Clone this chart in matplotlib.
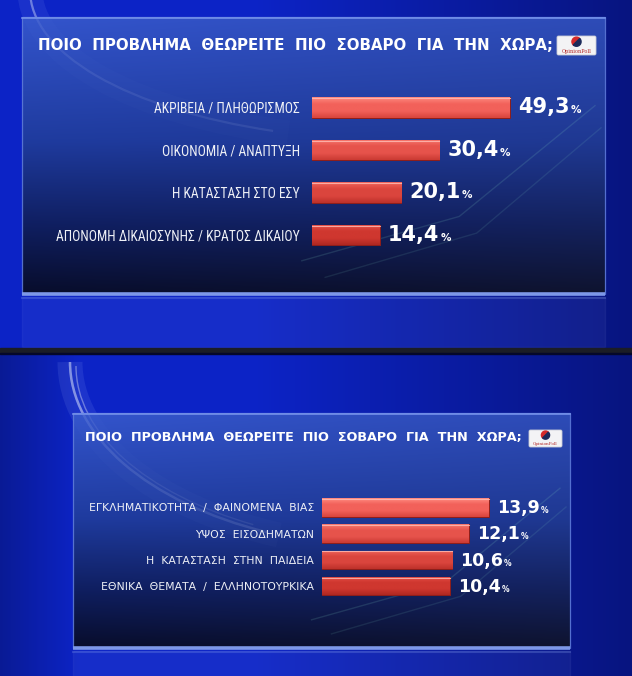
import numpy as np
import matplotlib
matplotlib.use("Agg")
import matplotlib.pyplot as plt
from matplotlib import font_manager
from matplotlib.patches import Rectangle, FancyBboxPatch, Wedge, Arc
from matplotlib.colors import LinearSegmentedColormap, to_rgb

# ---------------- data ----------------
title_text = "ΠΟΙΟ  ΠΡΟΒΛΗΜΑ  ΘΕΩΡΕΙΤΕ  ΠΙΟ  ΣΟΒΑΡΟ  ΓΙΑ  ΤΗΝ  ΧΩΡΑ;"
top_categories = ["ΑΚΡΙΒΕΙΑ / ΠΛΗΘΩΡΙΣΜΟΣ", "ΟΙΚΟΝΟΜΙΑ / ΑΝΑΠΤΥΞΗ",
                  "Η ΚΑΤΑΣΤΑΣΗ ΣΤΟ ΕΣΥ", "ΑΠΟΝΟΜΗ ΔΙΚΑΙΟΣΥΝΗΣ / ΚΡΑΤΟΣ ΔΙΚΑΙΟΥ"]
top_values = [49.3, 30.4, 20.1, 14.4]
bottom_categories = ["ΕΓΚΛΗΜΑΤΙΚΟΤΗΤΑ  /  ΦΑΙΝΟΜΕΝΑ  ΒΙΑΣ", "ΥΨΟΣ  ΕΙΣΟΔΗΜΑΤΩΝ",
                     "Η  ΚΑΤΑΣΤΑΣΗ  ΣΤΗΝ  ΠΑΙΔΕΙΑ", "ΕΘΝΙΚΑ  ΘΕΜΑΤΑ  /  ΕΛΛΗΝΟΤΟΥΡΚΙΚΑ"]
bottom_values = [13.9, 12.1, 10.6, 10.4]
logo_label = "OpinionPoll"

# ---------------- figure ----------------
W, H = 632, 676
fig = plt.figure(figsize=(W / 100, H / 100), dpi=100)
bg = fig.add_axes([0, 0, 1, 1])
bg.axis("off")

# background gradient
yy, xx = np.mgrid[0:H, 0:W]
xn = (xx / W)[..., None]
c_left = np.array([0.05, 0.14, 0.78])
c_right = np.array([0.03, 0.08, 0.50])
t = np.clip((xn - 0.40) / 0.60, 0, 1)
img = c_left * (1 - t) + c_right * t
left_dark = np.clip((80 - xx) / 80, 0, 1)[..., None] * ((yy > 352) & (yy < 676))[..., None]
img = img * (1 - 0.25 * left_dark)
bg.imshow(np.clip(img, 0, 1), extent=[0, W, H, 0], aspect="auto", zorder=0,
          interpolation="bilinear")

# light swooshes (background decoration): visible outside the panels,
# and a much fainter copy over the panels
swooshes = [
    (400, -10, 740, 300, 128, 180, 18, 0.08, "#a8c4ff"),
    (400, -10, 740, 300, 132, 180, 1.6, 0.35, "#e8f0ff"),
    (400, 362, 660, 372, 125, 180, 18, 0.09, "#a8c4ff"),
    (400, 362, 660, 372, 128, 180, 1.8, 0.45, "#e8f0ff"),
    (412, 366, 672, 360, 135, 180, 1.0, 0.30, "#ffffff"),
]
for (cx, cy, w, h, t1, t2, lw, a, col) in swooshes:
    bg.add_patch(Arc((cx, cy), w, h, theta1=t1, theta2=t2, lw=lw, color=col, alpha=a,
                     zorder=0.6))
    bg.add_patch(Arc((cx, cy), w, h, theta1=t1, theta2=t2, lw=lw, color=col, alpha=a * 0.25,
                     zorder=1.3))

# divider between the two screenshots
bg.add_patch(Rectangle((0, 347.5), W, 5, color="#1b1d26", zorder=5))
bg.add_patch(Rectangle((0, 352.5), W, 1.5, color="#05082a", zorder=5))


def panel(x0, y0, x1, y1, refl_h):
    n = 200
    v = np.linspace(0, 1, n)[:, None, None]
    hcoord = np.linspace(0, 1, 80)[None, :, None]
    stops = [(0.0, [0.20, 0.33, 0.80]), (0.45, [0.12, 0.23, 0.62]),
             (0.75, [0.06, 0.12, 0.38]), (1.0, [0.03, 0.05, 0.17])]
    arr = np.zeros((n, 80, 3))
    for k in range(3):
        arr[..., k] = np.interp(v[..., 0], [s[0] for s in stops], [s[1][k] for s in stops])
    arr = arr * (1.0 - 0.10 * hcoord) + 0.03 * hcoord * v
    bg.imshow(np.clip(arr, 0, 1), extent=[x0, x1, y1, y0], aspect="auto", zorder=1,
              interpolation="bilinear")
    # faint inner lines
    bg.plot([x0 + 0.48 * (x1 - x0), x0 + 0.75 * (x1 - x0), x1 - 10],
            [y1 - 0.12 * (y1 - y0), y1 - 0.28 * (y1 - y0), y0 + 0.32 * (y1 - y0)],
            color="#7fd0c0", lw=1, alpha=0.16, zorder=1.2)
    bg.plot([x0 + 0.52 * (x1 - x0), x0 + 0.78 * (x1 - x0), x1 - 4],
            [y1 - 0.06 * (y1 - y0), y1 - 0.22 * (y1 - y0), y0 + 0.40 * (y1 - y0)],
            color="#7fd0c0", lw=1, alpha=0.12, zorder=1.2)
    # borders
    bg.add_patch(Rectangle((x0, y0), x1 - x0, y1 - y0, fill=False, ec="#5d7ad8", lw=0.9,
                           alpha=0.9, zorder=1.5))
    bg.plot([x0, x1], [y0 + 0.5, y0 + 0.5], color="#7390ea", lw=1.2, zorder=1.6)
    bg.plot([x0, x1], [y1, y1], color="#7d98e8", lw=2.6, zorder=1.6, solid_capstyle="butt")
    # reflection below panel
    bg.add_patch(Rectangle((x0, y1 + 3), x1 - x0, refl_h, color="#c0d0ff", alpha=0.06, zorder=1))
    bg.plot([x0, x1], [y1 + 4, y1 + 4], color="#8aa4f0", lw=1.5, alpha=0.25, zorder=1)


def logo(x, y, w, h, fs):
    bg.add_patch(FancyBboxPatch((x, y), w, h, boxstyle="round,pad=0,rounding_size=1.5",
                                fc="#f3f3f5", ec="#c9ccd6", lw=0.6, zorder=3))
    cx, cy, r = x + w * 0.5, y + h * 0.30, h * 0.24
    bg.add_patch(Wedge((cx, cy), r, 135, 315, color="#d42a2a", zorder=4))
    bg.add_patch(Wedge((cx, cy), r, 315, 135, color="#1c2a5a", zorder=4))
    bg.text(x + w * 0.5, y + h * 0.80, logo_label, color="#b22a2a", fontsize=fs,
            ha="center", va="center", family="DejaVu Serif", zorder=4)


panel(22, 17, 605, 294, 50)
panel(73, 413, 570, 648, 28)
logo(557, 36, 39, 19, 3.6)
logo(529, 430, 33, 17, 3.0)

bg.set_xlim(0, W)
bg.set_ylim(H, 0)

t_title1 = bg.text(38, 45.5, title_text, color="white", fontweight="bold", fontsize=11.5,
                   ha="left", va="center", family="DejaVu Sans", zorder=3)
t_title2 = bg.text(85, 438, title_text, color="white", fontweight="bold", fontsize=9.5,
                   ha="left", va="center", family="DejaVu Sans", zorder=3)


def fit_width(txt, target):
    fig.canvas.draw()
    w = txt.get_window_extent().width
    txt.set_fontsize(txt.get_fontsize() * target / w)


fit_width(t_title1, 553 - 38)
fit_width(t_title2, 527 - 85)

# condensed font for the top labels
names = {f.name for f in font_manager.fontManager.ttflist}
cond_family = "Roboto"
for cand in ["Liberation Sans Narrow", "Roboto Condensed", "Open Sans Condensed", "DejaVu Sans Condensed"]:
    if cand in names:
        cond_family = cand
        break


def fmt(v):
    return f"{v:.1f}".replace(".", ",")


def mix(c1, c2, f):
    a, b = np.array(to_rgb(c1)), np.array(to_rgb(c2))
    return a * (1 - f) + b * f


def chart(px_l, px_r, px_t, px_b, cats, vals, base, scale, bar_h, lab_family, lab_right_px,
          lab_fs, lab_target_w, val_fs, pct_fs, val_off_px):
    ax = fig.add_axes([px_l / W, 1 - px_b / H, (px_r - px_l) / W, (px_b - px_t) / H])
    ax.patch.set_alpha(0)
    for s in ax.spines.values():
        s.set_visible(False)
    ypos = np.arange(len(vals))
    vals = np.asarray(vals)
    bars = ax.barh(ypos, vals - base, left=base, height=bar_h, color="#d8443c",
                   edgecolor="#8e1e1a", linewidth=0.7, zorder=2)
    nb = len(bars)
    for k, b in enumerate(bars):
        f = k / max(nb - 1, 1)
        c_top = mix("#ff8a80", "#e65048", f)
        c_mid = mix("#f2615a", "#cf372f", f)
        c_bot = mix("#d8443c", "#b02822", f)
        cmap = LinearSegmentedColormap.from_list("b%d" % k, [c_top, c_mid, c_mid, c_bot])
        grad = np.linspace(0, 1, 64)[:, None] * np.ones((1, 8))
        x0, y0, bw, bh = b.get_x(), b.get_y(), b.get_width(), b.get_height()
        im = ax.imshow(grad, cmap=cmap, extent=[x0, x0 + bw, y0 + bh, y0], aspect="auto",
                       zorder=2.5, interpolation="bilinear")
        im.set_clip_path(b)
        ax.plot([x0, x0 + bw], [y0 + bh * 0.05, y0 + bh * 0.05], color="#ffc0b8", lw=0.8,
                alpha=0.8, zorder=2.6)
    ax.set_xlim(base, base + (px_r - px_l) / scale)
    ax.set_ylim(len(vals) - 0.5, -0.5)
    ax.set_xticks([])
    ax.set_yticks(ypos)
    pad_pt = (px_l - lab_right_px) * 72 / 100
    ax.set_yticklabels(cats, family=lab_family, color="#eef0f6", fontsize=lab_fs)
    ax.tick_params(axis="y", length=0, pad=pad_pt)
    fig.canvas.draw()
    widths = [tl.get_window_extent().width for tl in ax.get_yticklabels()]
    ax.tick_params(axis="y", labelsize=lab_fs * lab_target_w / max(widths))
    off_pt = val_off_px * 72 / 100
    base_drop = -4.2
    for i, v in enumerate(vals):
        tnum = ax.annotate(fmt(v), xy=(v, i), xytext=(off_pt, base_drop), textcoords="offset points",
                           color="white", fontweight="bold", fontsize=val_fs, va="baseline",
                           ha="left", family="DejaVu Sans", zorder=4)
        ax.annotate("%", xy=(1, i), xycoords=(tnum, "data"), xytext=(0.8, base_drop),
                    textcoords="offset points", color="white", fontweight="bold",
                    fontsize=pct_fs, va="baseline", ha="left", family="DejaVu Sans", zorder=4)
    return ax


chart(312, 600, 86.25, 256.25, top_categories, top_values, -3.87, 3.72, 0.49,
      cond_family, 300, 10.5, 300 - 56, 15, 7.5, 8)
chart(322, 570, 494.4, 599.1, bottom_categories, bottom_values, -1.086, 11.14, 0.71,
      "DejaVu Sans", 314, 9, 314 - 89, 12.5, 5.5, 8)

fig.savefig("out.png", dpi=100)
